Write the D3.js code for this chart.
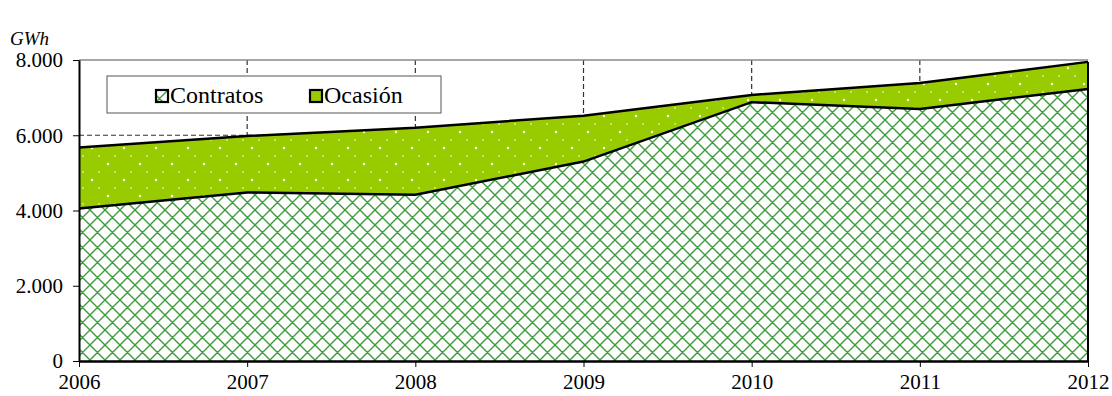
<!DOCTYPE html>
<html>
<head>
<meta charset="utf-8">
<script src="https://cdn.jsdelivr.net/npm/d3@7"></script>
<style>
	body { margin: 0; background: #fff; }
</style>
</head>
<body>
<svg id="chart-svg" width="1112" height="396"></svg>
<script>
// Electricity supply by contract type, GWh
const YEARS = [2006, 2007, 2008, 2009, 2010, 2011, 2012];
const CONTRATOS = [4050, 4480, 4420, 5300, 6880, 6700, 7230];
const OCASION = [1625, 1500, 1780, 1220, 190, 690, 720];
const Y_TICKS = [0, 2000, 4000, 6000, 8000];
const SERIES = ['Contratos', 'Ocasión'];

const FONT = 'Liberation Serif';
const PADDING = { top: 60, bottom: 35, left: 79, right: 24 };
const svg = d3.select('#chart-svg');
const svgWidth = 1112;
const svgHeight = 396;

const table = YEARS.map((y, i) => ({ year: y, Contratos: CONTRATOS[i], 'Ocasión': OCASION[i] }));

const xScale = d3.scaleLinear().domain([2006, 2012]).range([PADDING.left, svgWidth - PADDING.right]);
const yScale = d3.scaleLinear().domain([0, 8000]).range([svgHeight - PADDING.bottom, PADDING.top]);

// patterns
const defs = svg.append('defs');
const cross = defs.append('pattern')
	.attr('id', 'pat-contratos')
	.attr('patternUnits', 'userSpaceOnUse')
	.attr('width', 15).attr('height', 15);
cross.append('rect').attr('width', 15).attr('height', 15).attr('fill', '#fff');
cross.append('path')
	.attr('d', 'M0,0L15,15M15,0L0,15M-7.5,7.5L0,15M7.5,-7.5L15,0M7.5,22.5L15,15M22.5,7.5L15,0M0,0L-7.5,7.5M0,15L7.5,22.5')
	.attr('stroke', '#3c9c3c').attr('stroke-width', 1.4).attr('fill', 'none');

const dots = defs.append('pattern')
	.attr('id', 'pat-ocasion')
	.attr('patternUnits', 'userSpaceOnUse')
	.attr('width', 32).attr('height', 32);
dots.append('rect').attr('width', 32).attr('height', 32).attr('fill', '#99cc00');
[[12, 4], [28, 20]].forEach(([cx, cy]) => {
	dots.append('circle').attr('cx', cx).attr('cy', cy).attr('r', 1.2).attr('fill', '#fff');
});
[[3, 12], [19, 12], [3, 28], [19, 28]].forEach(([cx, cy]) => {
	dots.append('rect').attr('x', cx - 0.5).attr('y', cy - 1).attr('width', 1).attr('height', 2).attr('fill', '#f4ffd8');
});

const FILLS = { Contratos: 'url(#pat-contratos)', 'Ocasión': 'url(#pat-ocasion)' };

// grid
const grid = svg.append('g').attr('id', 'grid');
grid.selectAll('line.h')
	.data(Y_TICKS.filter((t) => t > 0 && t < 8000))
	.enter()
	.append('line')
	.attr('x1', xScale(2006)).attr('x2', xScale(2012))
	.attr('y1', (d) => yScale(d)).attr('y2', (d) => yScale(d))
	.attr('stroke', '#333').attr('stroke-width', 1.2).attr('stroke-dasharray', '5,3');
grid.selectAll('line.v')
	.data(YEARS.slice(1, -1))
	.enter()
	.append('line')
	.attr('x1', (d) => xScale(d)).attr('x2', (d) => xScale(d))
	.attr('y1', yScale(8000)).attr('y2', yScale(0))
	.attr('stroke', '#333').attr('stroke-width', 1.2).attr('stroke-dasharray', '5,3');
grid.append('line')
	.attr('x1', xScale(2006)).attr('x2', xScale(2012))
	.attr('y1', yScale(8000)).attr('y2', yScale(8000))
	.attr('stroke', '#888').attr('stroke-width', 1.5);

// stacked areas
const stacked = d3.stack().keys(SERIES)(table);
const area = d3.area()
	.x((d) => xScale(d.data.year))
	.y0((d) => yScale(d[0]))
	.y1((d) => yScale(d[1]));
const outline = d3.line()
	.x((d) => xScale(d.data.year))
	.y((d) => yScale(d[1]));

svg.append('g').selectAll('path')
	.data(stacked)
	.enter()
	.append('path')
	.attr('d', area)
	.attr('fill', (d) => FILLS[d.key]);

svg.append('g').selectAll('path')
	.data(stacked)
	.enter()
	.append('path')
	.attr('d', outline)
	.attr('fill', 'none')
	.attr('stroke', '#000')
	.attr('stroke-width', 2.5);

// right edge
svg.append('line')
	.attr('x1', xScale(2012)).attr('x2', xScale(2012))
	.attr('y1', yScale(0)).attr('y2', yScale(stacked[1][6][1]))
	.attr('stroke', '#000').attr('stroke-width', 2);

// axes
const xAxis = d3.axisBottom(xScale).tickValues(YEARS).tickFormat(d3.format('d')).tickSize(6).tickSizeOuter(0);
const gx = svg.append('g')
	.attr('id', 'x-axis')
	.attr('transform', 'translate(0, ' + yScale(0) + ')')
	.call(xAxis)
	.attr('font-family', FONT)
	.attr('font-size', 21);
gx.select('.domain').attr('stroke', '#000').attr('stroke-width', 2.5);
gx.selectAll('.tick line').attr('stroke', '#000');
gx.selectAll('.tick text').attr('fill', '#000').attr('y', 13);

const yFormat = (v) => d3.format(',')(v).replace(/,/g, '.');
const yAxis = d3.axisLeft(yScale).tickValues(Y_TICKS).tickFormat(yFormat).tickSize(6).tickSizeOuter(0);
const gy = svg.append('g')
	.attr('id', 'y-axis')
	.attr('transform', 'translate(' + PADDING.left + ', 0)')
	.call(yAxis)
	.attr('font-family', FONT)
	.attr('font-size', 21);
gy.select('.domain').attr('stroke', '#000').attr('stroke-width', 2);
gy.selectAll('.tick line').attr('stroke', '#000');
gy.selectAll('.tick text').attr('fill', '#000').attr('x', -16).attr('dy', '0.33em');

svg.append('text')
	.attr('x', 10).attr('y', 45)
	.attr('font-family', FONT)
	.attr('font-size', 19).attr('font-style', 'italic')
	.text('GWh');

// legend
const legendG = svg.append('g').attr('id', 'legend').attr('transform', 'translate(107, 76)');
legendG.append('rect')
	.attr('width', 334).attr('height', 37)
	.attr('fill', '#fff').attr('stroke', '#555').attr('stroke-width', 1);
const legendX = [48, 202];
SERIES.forEach((key, i) => {
	legendG.append('rect')
		.attr('x', legendX[i] + 1).attr('y', 14)
		.attr('width', 12).attr('height', 12)
		.attr('fill', FILLS[key]).attr('stroke', '#000').attr('stroke-width', 2.2);
	legendG.append('text')
		.attr('x', legendX[i] + 15).attr('y', 27)
		.attr('font-family', FONT)
		.attr('font-size', 24)
		.text(key);
});
</script>
</body>
</html>
